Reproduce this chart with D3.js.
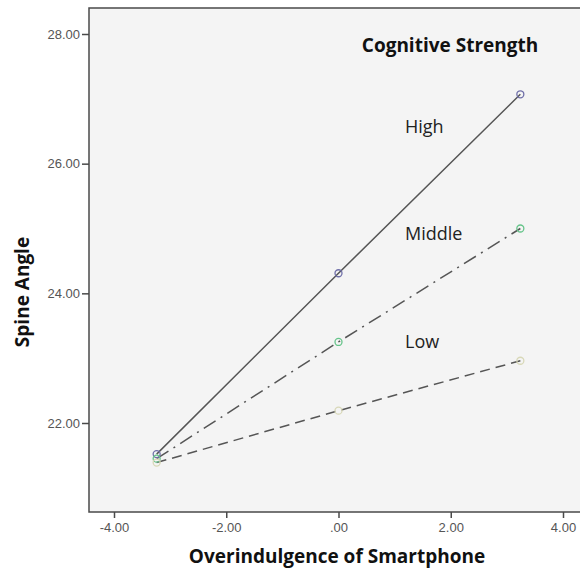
<!DOCTYPE html>
<html>
<head>
<meta charset="utf-8">
<script src="https://cdn.jsdelivr.net/npm/d3@7"></script>
<style>
  body { margin: 0; background: #fff; }
  svg { display: block; }
</style>
</head>
<body>
<div id="chart"></div>
<script>
// Data
const groups = ["High", "Middle", "Low"];
const xValues = [-3.24, 0, 3.24];
const highValues = [21.52, 24.31, 27.07];
const middleValues = [21.45, 23.25, 25.0];
const lowValues = [21.39, 22.19, 22.96];
const xTicks = [-4, -2, 0, 2, 4];
const yTicks = [22, 24, 26, 28];

const series = [
    { name: "High", values: highValues, dash: null, marker: "#6f6fa8" },
    { name: "Middle", values: middleValues, dash: "14,6,2,6", marker: "#66c48a" },
    { name: "Low", values: lowValues, dash: "10,6", marker: "#d8d8b8" }
];

const width = 580, height = 571;
const frame = { left: 89, top: 8, right: 583, bottom: 512 };

const svg = d3.select("#chart")
    .append("svg")
    .attr("width", width)
    .attr("height", height);

// Scales
const xScale = d3.scaleLinear()
    .domain([-4, 4])
    .range([114, 563]);

const yScale = d3.scaleLinear()
    .domain([22, 28])
    .range([423, 34]);

// Plot background and frame
svg.append("rect")
    .attr("x", frame.left)
    .attr("y", frame.top)
    .attr("width", frame.right - frame.left)
    .attr("height", frame.bottom - frame.top)
    .attr("fill", "#f4f4f4")
    .attr("stroke", "#4a4a4a")
    .attr("stroke-width", 1.5);

// Format like SPSS: 22.00, .00, -2.00 (plain hyphen, no leading zero)
const fmt = d => d.toFixed(2).replace(/^(-?)0\./, "$1.");

// Axes
const xAxis = svg.append("g")
    .attr("transform", "translate(0," + frame.bottom + ")")
    .call(d3.axisBottom(xScale).tickValues(xTicks).tickFormat(fmt).tickSize(6).tickPadding(5));

const yAxis = svg.append("g")
    .attr("transform", "translate(" + frame.left + ",0)")
    .call(d3.axisLeft(yScale).tickValues(yTicks).tickFormat(fmt).tickSize(7).tickPadding(2));

[xAxis, yAxis].forEach(g => {
    g.select(".domain").remove();
    g.selectAll(".tick line").attr("stroke", "#4a4a4a").attr("stroke-width", 1.5);
    g.selectAll(".tick text")
        .attr("fill", "#555")
        .style("font-family", "Liberation Sans, Arial, sans-serif")
        .style("font-size", "13px");
});

// Lines
const line = d3.line()
    .x((d, i) => xScale(xValues[i]))
    .y(d => yScale(d));

series.forEach(s => {
    svg.append("path")
        .datum(s.values)
        .attr("d", line)
        .attr("fill", "none")
        .attr("stroke", "#555")
        .attr("stroke-width", 1.5)
        .attr("stroke-dasharray", s.dash);
});

// Markers
series.forEach(s => {
    svg.selectAll(null)
        .data(s.values)
        .enter().append("circle")
        .attr("cx", (d, i) => xScale(xValues[i]))
        .attr("cy", d => yScale(d))
        .attr("r", 3.5)
        .attr("fill", "none")
        .attr("stroke", s.marker)
        .attr("stroke-width", 1.3);
});

// Legend title and series labels
svg.append("text")
    .attr("x", 450)
    .attr("y", 52)
    .attr("text-anchor", "middle")
    .style("font-family", "Open Sans, sans-serif")
    .style("font-weight", "bold")
    .style("font-size", "19px")
    .attr("fill", "#111")
    .text("Cognitive Strength");

const labelY = { High: 133, Middle: 240, Low: 348 };
groups.forEach(g => {
    svg.append("text")
        .attr("x", 405)
        .attr("y", labelY[g])
        .style("font-family", "Open Sans, sans-serif")
        .style("font-size", "18px")
        .attr("fill", "#222")
        .text(g);
});

// Axis titles
svg.append("text")
    .attr("x", 337)
    .attr("y", 563)
    .attr("text-anchor", "middle")
    .style("font-family", "Open Sans, sans-serif")
    .style("font-weight", "bold")
    .style("font-size", "19px")
    .attr("fill", "#111")
    .text("Overindulgence of Smartphone");

svg.append("text")
    .attr("transform", "rotate(-90)")
    .attr("x", -292)
    .attr("y", 29)
    .attr("text-anchor", "middle")
    .style("font-family", "Open Sans, sans-serif")
    .style("font-weight", "bold")
    .style("font-size", "19px")
    .attr("fill", "#111")
    .text("Spine Angle");
</script>
</body>
</html>
